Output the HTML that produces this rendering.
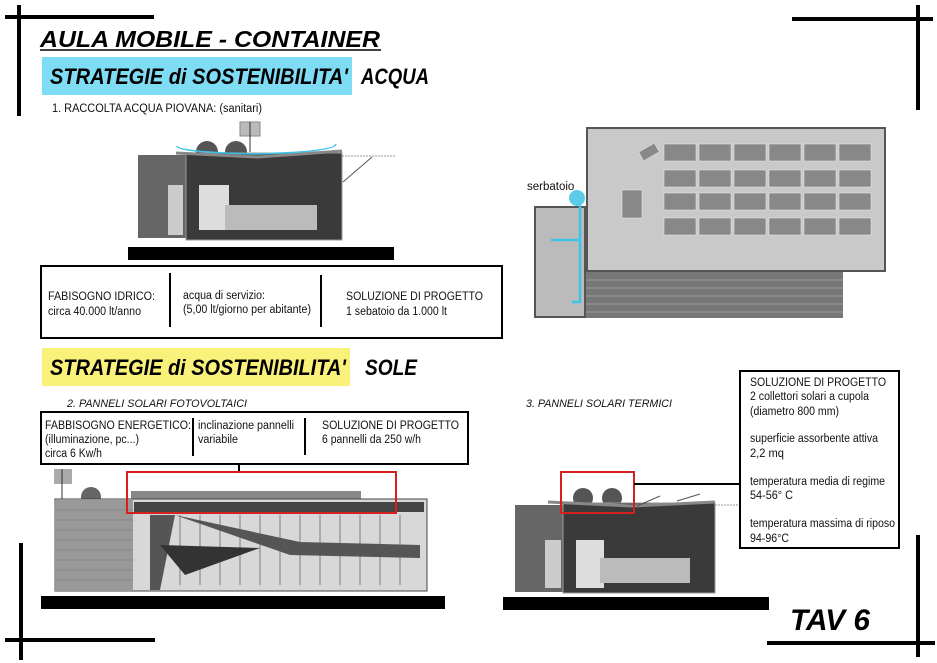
<!DOCTYPE html>
<html><head><meta charset="utf-8"><style>
body{margin:0;background:#fff;}
svg{display:block}
.s{font-family:"Liberation Sans",sans-serif;font-size:11.5px;fill:#111}
.i{font-family:"Liberation Sans",sans-serif;font-size:11px;font-style:italic;fill:#111}
.h{font-family:"Liberation Sans",sans-serif;font-style:italic;font-weight:bold;fill:#000}
</style></head><body>
<svg width="937" height="663" viewBox="0 0 937 663" xmlns="http://www.w3.org/2000/svg">
<rect width="937" height="663" fill="#fff"/>
<g stroke="#000" stroke-width="4">
<line x1="5" y1="17" x2="154" y2="17"/><line x1="19" y1="5" x2="19" y2="116"/>
<line x1="792" y1="19" x2="933" y2="19"/><line x1="918" y1="5" x2="918" y2="110"/>
<line x1="5" y1="640" x2="155" y2="640"/><line x1="21" y1="543" x2="21" y2="660"/>
<line x1="767" y1="643" x2="935" y2="643"/><line x1="918" y1="535" x2="918" y2="657"/>
</g>
<text x="40" y="47" class="h" font-size="23" textLength="340" lengthAdjust="spacingAndGlyphs">AULA MOBILE - CONTAINER</text>
<line x1="40" y1="50" x2="381" y2="50" stroke="#000" stroke-width="1.5"/>
<rect x="42" y="57" width="310" height="38" fill="#7fdcf5"/>
<text x="50" y="84" class="h" font-size="22" font-weight="normal" textLength="298" lengthAdjust="spacingAndGlyphs">STRATEGIE di SOSTENIBILITA'</text>
<text x="361" y="84" class="h" font-size="22" font-weight="normal" textLength="68" lengthAdjust="spacingAndGlyphs">ACQUA</text>
<text x="52" y="112" class="s" font-size="11" textLength="210" lengthAdjust="spacingAndGlyphs">1. RACCOLTA ACQUA PIOVANA:  (sanitari)</text>

<g>
<rect x="240" y="122" width="20" height="14" fill="#bbb" stroke="#888"/>
<line x1="250" y1="122" x2="250" y2="152" stroke="#333"/>
<circle cx="207" cy="152" r="11" fill="#555"/><circle cx="236" cy="152" r="11" fill="#555"/>
<rect x="138" y="155" width="48" height="83" fill="#666"/>
<rect x="168" y="185" width="15" height="50" fill="#ccc"/>
<rect x="186" y="153" width="156" height="87" fill="#3a3a3a" stroke="#999"/>
<rect x="199" y="185" width="30" height="45" fill="#ddd"/>
<rect x="225" y="205" width="92" height="25" fill="#bbb"/>
<path d="M176 153 L258 157 L342 151" stroke="#888" stroke-width="3" fill="none"/>
<path d="M177 146 Q177 152 255 154 M254 154 Q335 152 336 144" stroke="#3cc3e8" stroke-width="1.5" fill="none"/>
<line x1="342" y1="156" x2="395" y2="156" stroke="#999" stroke-dasharray="2 1"/>
<line x1="343" y1="182" x2="372" y2="157" stroke="#555"/>
<rect x="128" y="247" width="266" height="13" fill="#000"/>
</g>

<g>
<rect x="582" y="272" width="261" height="46" fill="#777"/>
<g stroke="#999" stroke-width="1">
<line x1="582" y1="280" x2="843" y2="280"/><line x1="582" y1="288" x2="843" y2="288"/><line x1="582" y1="296" x2="843" y2="296"/><line x1="582" y1="304" x2="843" y2="304"/><line x1="582" y1="312" x2="843" y2="312"/></g>
<rect x="587" y="128" width="298" height="143" fill="#c9c9c9" stroke="#555" stroke-width="2"/>
<rect x="535" y="207" width="50" height="110" fill="#bbb" stroke="#555" stroke-width="2"/>
<g fill="#888" stroke="#eee" stroke-width="0.5">
<rect x="664" y="144" width="32" height="17"/><rect x="699" y="144" width="32" height="17"/><rect x="734" y="144" width="32" height="17"/><rect x="769" y="144" width="32" height="17"/><rect x="804" y="144" width="32" height="17"/><rect x="839" y="144" width="32" height="17"/>
<rect x="664" y="170" width="32" height="17"/><rect x="699" y="170" width="32" height="17"/><rect x="734" y="170" width="32" height="17"/><rect x="769" y="170" width="32" height="17"/><rect x="804" y="170" width="32" height="17"/><rect x="839" y="170" width="32" height="17"/>
<rect x="664" y="193" width="32" height="17"/><rect x="699" y="193" width="32" height="17"/><rect x="734" y="193" width="32" height="17"/><rect x="769" y="193" width="32" height="17"/><rect x="804" y="193" width="32" height="17"/><rect x="839" y="193" width="32" height="17"/>
<rect x="664" y="218" width="32" height="17"/><rect x="699" y="218" width="32" height="17"/><rect x="734" y="218" width="32" height="17"/><rect x="769" y="218" width="32" height="17"/><rect x="804" y="218" width="32" height="17"/><rect x="839" y="218" width="32" height="17"/>
<rect x="622" y="190" width="20" height="28"/><rect x="640" y="147" width="18" height="10" transform="rotate(-30 649 152)"/>
</g>
<path d="M580 200 L580 302 L572 302 M580 240 L551 240" stroke="#3cc3e8" stroke-width="2.5" fill="none"/>
<circle cx="577" cy="198" r="8" fill="#5ccbe8"/>
<text x="527" y="190" class="s" font-size="11">serbatoio</text>
</g>

<rect x="41" y="266" width="461" height="72" fill="#fff" stroke="#000" stroke-width="2"/>
<line x1="170" y1="273" x2="170" y2="327" stroke="#000" stroke-width="2"/>
<line x1="321" y1="275" x2="321" y2="327" stroke="#000" stroke-width="2"/>
<text x="48" y="300" class="s" textLength="107" lengthAdjust="spacingAndGlyphs">FABISOGNO IDRICO:</text><text x="48" y="315" class="s" textLength="93" lengthAdjust="spacingAndGlyphs">circa 40.000 lt/anno</text>
<text x="183" y="299" class="s" textLength="82" lengthAdjust="spacingAndGlyphs">acqua di servizio:</text><text x="183" y="313" class="s" textLength="128" lengthAdjust="spacingAndGlyphs">(5,00 lt/giorno per abitante)</text>
<text x="346" y="300" class="s" textLength="137" lengthAdjust="spacingAndGlyphs">SOLUZIONE DI PROGETTO</text><text x="346" y="315" class="s" textLength="101" lengthAdjust="spacingAndGlyphs">1 sebatoio da 1.000 lt</text>

<rect x="42" y="348" width="308" height="38" fill="#faf17a"/>
<text x="50" y="375" class="h" font-size="22" font-weight="normal" textLength="296" lengthAdjust="spacingAndGlyphs">STRATEGIE di SOSTENIBILITA'</text>
<text x="365" y="375" class="h" font-size="22" font-weight="normal" textLength="52" lengthAdjust="spacingAndGlyphs">SOLE</text>
<text x="67" y="407" class="i" textLength="180" lengthAdjust="spacingAndGlyphs">2. PANNELI SOLARI FOTOVOLTAICI</text>
<text x="526" y="407" class="i" textLength="146" lengthAdjust="spacingAndGlyphs">3. PANNELI SOLARI TERMICI</text>

<rect x="41" y="412" width="427" height="52" fill="#fff" stroke="#000" stroke-width="2"/>
<line x1="193" y1="418" x2="193" y2="456" stroke="#000" stroke-width="2"/>
<line x1="305" y1="418" x2="305" y2="455" stroke="#000" stroke-width="2"/>
<line x1="239" y1="464" x2="239" y2="471" stroke="#000" stroke-width="2"/>
<text x="45" y="429" class="s" textLength="146" lengthAdjust="spacingAndGlyphs">FABBISOGNO ENERGETICO:</text><text x="45" y="443" class="s" textLength="94" lengthAdjust="spacingAndGlyphs">(illuminazione, pc...)</text><text x="45" y="457" class="s" textLength="57" lengthAdjust="spacingAndGlyphs">circa 6 Kw/h</text>
<text x="198" y="429" class="s" textLength="96" lengthAdjust="spacingAndGlyphs">inclinazione pannelli</text><text x="198" y="443" class="s" textLength="40" lengthAdjust="spacingAndGlyphs">variabile</text>
<text x="322" y="429" class="s" textLength="137" lengthAdjust="spacingAndGlyphs">SOLUZIONE DI PROGETTO</text><text x="322" y="443" class="s" textLength="99" lengthAdjust="spacingAndGlyphs">6 pannelli da 250 w/h</text>

<g>
<rect x="54" y="469" width="18" height="15" fill="#aaa"/>
<line x1="62" y1="469" x2="62" y2="500" stroke="#333"/>
<circle cx="91" cy="497" r="10" fill="#666"/>
<rect x="131" y="491" width="230" height="9" fill="#888"/>
<rect x="55" y="499" width="372" height="92" fill="#d8d8d8" stroke="#444"/>
<rect x="55" y="500" width="78" height="91" fill="#999"/>
<g stroke="#888" stroke-width="1">
<line x1="55" y1="510" x2="133" y2="510"/><line x1="55" y1="520" x2="133" y2="520"/><line x1="55" y1="530" x2="133" y2="530"/><line x1="55" y1="540" x2="133" y2="540"/><line x1="55" y1="550" x2="133" y2="550"/><line x1="55" y1="560" x2="133" y2="560"/><line x1="55" y1="570" x2="133" y2="570"/><line x1="55" y1="580" x2="133" y2="580"/>
</g>
<rect x="134" y="502" width="290" height="10" fill="#444"/>
<g stroke="#aaa" stroke-width="2">
<line x1="180" y1="515" x2="180" y2="585"/><line x1="200" y1="515" x2="200" y2="585"/><line x1="220" y1="515" x2="220" y2="585"/><line x1="240" y1="515" x2="240" y2="585"/><line x1="260" y1="515" x2="260" y2="585"/><line x1="280" y1="515" x2="280" y2="585"/><line x1="300" y1="515" x2="300" y2="585"/><line x1="320" y1="515" x2="320" y2="585"/><line x1="340" y1="515" x2="340" y2="585"/><line x1="360" y1="515" x2="360" y2="585"/><line x1="380" y1="515" x2="380" y2="585"/><line x1="400" y1="515" x2="400" y2="585"/></g>
<path d="M150 515 L175 515 L290 555 L420 558 L420 545 L300 542 L175 515 L160 590 L150 590 Z" fill="#555"/>
<path d="M160 545 L260 548 L185 575 Z" fill="#333"/>
<rect x="41" y="596" width="404" height="13" fill="#000"/>
</g>
<rect x="127" y="472" width="269" height="41" fill="none" stroke="#d42020" stroke-width="2"/>

<g>
<circle cx="583" cy="498" r="10" fill="#555"/><circle cx="612" cy="498" r="10" fill="#555"/>
<rect x="515" y="505" width="50" height="87" fill="#666"/>
<rect x="545" y="540" width="16" height="48" fill="#ccc"/>
<rect x="563" y="503" width="152" height="90" fill="#3a3a3a" stroke="#999"/>
<rect x="576" y="540" width="28" height="48" fill="#ddd"/>
<rect x="600" y="558" width="90" height="25" fill="#bbb"/>
<path d="M548 502 L632 506 L715 502" stroke="#888" stroke-width="3" fill="none"/>
<path d="M637 506 L660 496 M677 501 L700 494" stroke="#555"/>
<line x1="715" y1="505" x2="755" y2="505" stroke="#999" stroke-dasharray="2 1"/>
<rect x="503" y="597" width="266" height="13" fill="#000"/>
</g>
<rect x="561" y="472" width="73" height="41" fill="none" stroke="#d42020" stroke-width="2"/>
<line x1="634" y1="484" x2="740" y2="484" stroke="#000" stroke-width="2"/>

<rect x="740" y="371" width="159" height="177" fill="#fff" stroke="#000" stroke-width="2"/>
<text x="750" y="386" class="s" textLength="136" lengthAdjust="spacingAndGlyphs">SOLUZIONE DI PROGETTO</text>
<text x="750" y="400" class="s" textLength="119" lengthAdjust="spacingAndGlyphs">2 collettori solari a cupola</text>
<text x="750" y="415" class="s" textLength="89" lengthAdjust="spacingAndGlyphs">(diametro 800 mm)</text>
<text x="750" y="442" class="s" textLength="128" lengthAdjust="spacingAndGlyphs">superficie assorbente attiva</text>
<text x="750" y="457" class="s" textLength="34" lengthAdjust="spacingAndGlyphs">2,2 mq</text>
<text x="750" y="485" class="s" textLength="135" lengthAdjust="spacingAndGlyphs">temperatura media di regime</text>
<text x="750" y="499" class="s" textLength="43" lengthAdjust="spacingAndGlyphs">54-56° C</text>
<text x="750" y="527" class="s" textLength="145" lengthAdjust="spacingAndGlyphs">temperatura massima di riposo</text>
<text x="750" y="542" class="s" textLength="39" lengthAdjust="spacingAndGlyphs">94-96°C</text>

<text x="790" y="630" class="h" font-size="30" font-weight="normal" textLength="80" lengthAdjust="spacingAndGlyphs">TAV 6</text>
</svg>
</body></html>
